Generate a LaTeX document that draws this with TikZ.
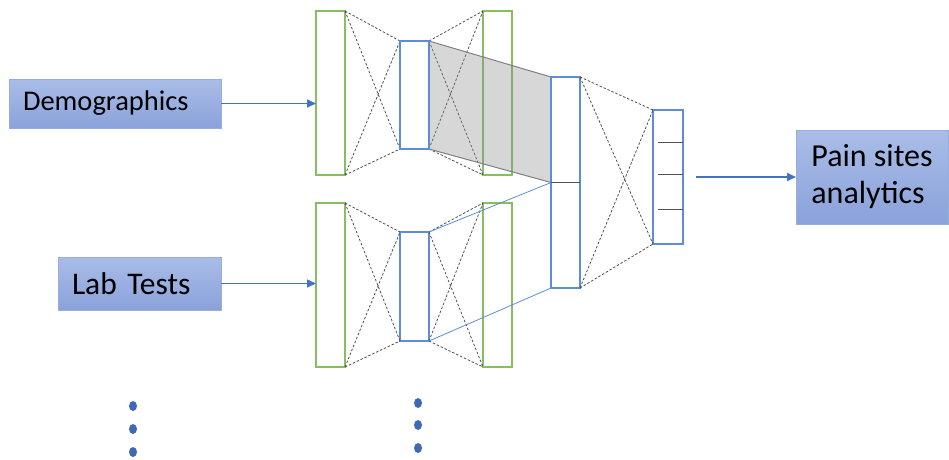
\documentclass[tikz,border=0pt]{standalone}
\usepackage{fontspec}
\setmainfont{Carlito}
\usetikzlibrary{arrows.meta,calc,shapes.geometric}
\definecolor{lgreen}{HTML}{86BE60}
\definecolor{lblue}{HTML}{5B8ED6}
\definecolor{dgray}{HTML}{505050}
\definecolor{boxtop}{HTML}{AABDE8}
\definecolor{boxbot}{HTML}{8AA2DA}
\definecolor{boxedge}{HTML}{94AEDF}
\definecolor{arrblue}{HTML}{4472C4}
\definecolor{dotblue}{HTML}{3F69B5}
\begin{document}
\begin{tikzpicture}[x=1pt,y=-1pt,
  layer/.style={draw, inner sep=0pt, outer sep=0pt, fill=white, anchor=north west},
  enc/.style={layer, draw=lgreen, line width=1.5pt, minimum width=29pt, minimum height=164pt},
  codebox/.style={layer, draw=lblue, line width=1.8pt, minimum width=29pt, minimum height=108pt},
  conn/.style={dash pattern=on 2.5pt off 1.8pt, draw=dgray, line width=0.8pt},
  thinblue/.style={draw=lblue, line width=0.8pt},
  divider/.style={draw=dgray, line width=1pt},
  inbox/.style={draw=boxedge, line width=0.8pt, top color=boxtop, bottom color=boxbot,
    anchor=north west, inner xsep=14pt, inner ysep=0pt, outer sep=0pt, align=left},
  arr/.style={-{Triangle[length=9pt,width=8pt]}, draw=arrblue, line width=1.6pt},
  dotnode/.style={ellipse, fill=dotblue, minimum width=8pt, minimum height=10pt, inner sep=0pt}
]
\useasboundingbox (0,0) rectangle (949,459);

% top encoder
\node[enc] (e1in) at (316,11) {};
\node[enc] (e1out) at (483,11) {};
% bottom encoder
\node[enc] (e2in) at (316,203) {};
\node[enc] (e2out) at (483,203) {};

% code layers
\node[codebox] (c1) at (400,41) {};
\node[codebox, minimum height=109pt] (c2) at (400,232) {};

% middle joint layer
\node[layer, draw=lblue, line width=1.8pt, minimum width=29pt, minimum height=211pt] (mid) at (551,77) {};
% output layer
\node[layer, draw=lblue, line width=1.8pt, minimum width=30pt, minimum height=134pt] (out) at (653,110) {};

% dashed connections top encoder
\draw[conn] (e1in.north east) -- (c1.north west) (e1in.north east) -- (c1.south west)
            (e1in.south east) -- (c1.north west) (e1in.south east) -- (c1.south west);
\draw[conn] (c1.north east) -- (e1out.north west) (c1.north east) -- (e1out.south west)
            (c1.south east) -- (e1out.north west) (c1.south east) -- (e1out.south west);
% dashed connections bottom encoder
\draw[conn] (e2in.north east) -- (c2.north west) (e2in.north east) -- (c2.south west)
            (e2in.south east) -- (c2.north west) (e2in.south east) -- (c2.south west);
\draw[conn] (c2.north east) -- (e2out.north west) (c2.north east) -- (e2out.south west)
            (c2.south east) -- (e2out.north west) (c2.south east) -- (e2out.south west);

% shaded projection of top code into joint layer
\filldraw[fill=black!45, fill opacity=0.35, draw=black!50, line width=1pt]
  (c1.north east) -- (mid.north west) -- (mid.west) -- (c1.south east) -- cycle;
% projection of bottom code
\draw[thinblue] (c2.north east) -- (mid.west);
\draw[thinblue] (c2.south east) -- (mid.south west);

% redraw the code and joint layer borders on top
\draw[draw=lblue, line width=1.8pt] (c1.north west) rectangle (c1.south east);
\draw[draw=lblue, line width=1.8pt] (mid.north west) rectangle (mid.south east);
\draw[divider] (mid.west) -- (mid.east);

% dashed connections joint -> output
\draw[conn] (mid.north east) -- (out.north west) (mid.north east) -- (out.south west)
            (mid.south east) -- (out.north west) (mid.south east) -- (out.south west);

% output dividers
\draw[divider] ([xshift=5pt]$(out.north west)!0.246!(out.south west)$) -- ($(out.north east)!0.246!(out.south east)$);
\draw[divider] ([xshift=5pt]$(out.north west)!0.485!(out.south west)$) -- ($(out.north east)!0.485!(out.south east)$);
\draw[divider] ([xshift=5pt]$(out.north west)!0.739!(out.south west)$) -- ($(out.north east)!0.739!(out.south east)$);

% input boxes
\node[inbox, text width=184pt, minimum height=49pt, font=\fontsize{28.5}{34}\selectfont] (demo) at (9,79) {\raisebox{-3pt}{Demographics}};
\node[inbox, text width=135pt, minimum height=53pt, font=\fontsize{31.5}{38}\selectfont] (lab) at (58,257) {Lab Tests};
% output box
\node[draw=boxedge, line width=0.8pt, top color=boxtop, bottom color=boxbot, anchor=north west,
  inner sep=0pt, outer sep=0pt, minimum width=152pt, minimum height=94pt, align=left,
  font=\fontsize{32}{37}\selectfont] (pain) at (796,130) {Pain sites\\analytics};

% arrows
\draw[arr] (demo.east) -- (demo.east -| e1in.west);
\draw[arr] (lab.east) -- (lab.east -| e2in.west);
\draw[arr] ([xshift=13pt]out.east) -- (out.east -| pain.west);

% continuation dots
\node[dotnode] (d1) at (133,406) {};
\node[dotnode] (d2) at (133,429) {};
\node[dotnode] (d3) at (133,452) {};
\node[dotnode] (d4) at (418,403) {};
\node[dotnode] (d5) at (418,425) {};
\node[dotnode] (d6) at (418,448) {};
\end{tikzpicture}
\end{document}
